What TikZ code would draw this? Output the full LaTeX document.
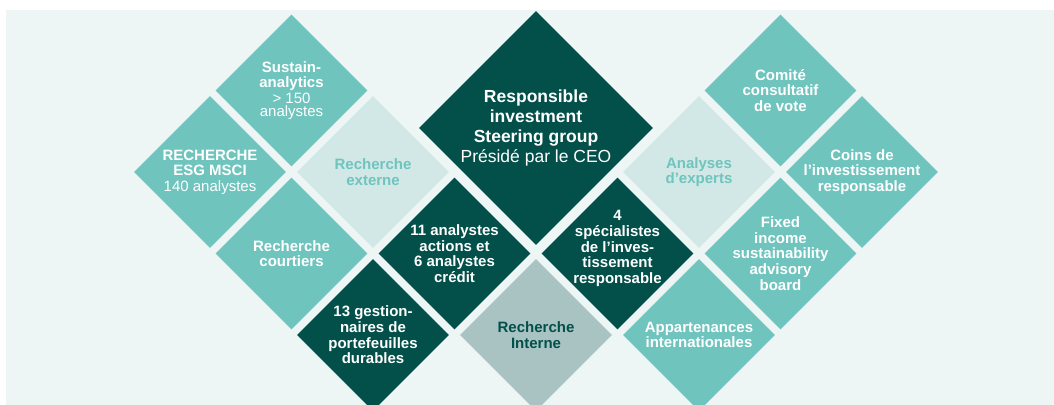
\documentclass[tikz,border=0pt]{standalone}
\usepackage{fontspec}
\setmainfont{Liberation Sans}
\usetikzlibrary{shapes.geometric}

\definecolor{mintbg}{HTML}{EDF6F4}
\definecolor{teal}{HTML}{6FC4BE}
\definecolor{darkgreen}{HTML}{03504A}
\definecolor{palemint}{HTML}{D1E8E7}
\definecolor{greymint}{HTML}{A8C3C2}

\tikzset{
  tile/.style={diamond, aspect=1, minimum size=121.6pt, inner sep=-20pt,
    align=center, fill=teal, text=white,
    font=\bfseries\fontsize{12}{12.5}\selectfont},
  darktile/.style={tile, fill=darkgreen},
  paletile/.style={tile, fill=palemint, text=teal},
  greytile/.style={tile, fill=greymint, text=darkgreen},
  bigtile/.style={tile, fill=darkgreen, minimum size=187.2pt,
    font=\bfseries\fontsize{14}{16}\selectfont}
}

\begin{document}
\begin{tikzpicture}[x=65.2pt, y=65.2pt]
% Page and mint background
\useasboundingbox (-6.577, -0.859) rectangle (6.356, 4.110);
\fill[mintbg] (-6.503, -0.859) rectangle (6.356, 3.988);

% Centre: steering group
\node[bigtile] (steering) at (0, 2.54) {Responsible\\investment\\Steering group\\{\mdseries Présidé par le CEO}};

% Left wing: external research
\node[tile] (sustain) at (-3, 3) {Sustain-\\analytics\\{\mdseries > 150}\\[-2pt]{\mdseries analystes}};
\node[tile] (msci) at (-4, 2) {RECHERCHE\\ESG MSCI\\{\mdseries 140 analystes}};
\node[paletile] (externe) at (-2, 2) {Recherche\\externe};
\node[tile] (courtiers) at (-3, 1) {Recherche\\courtiers};

% Bottom: internal research
\node[darktile] (actions) at (-1, 1) {11 analystes\\actions et\\6 analystes\\crédit};
\node[darktile] (gestion) at (-2, 0) {13 gestion-\\naires de\\portefeuilles\\durables};
\node[greytile] (interne) at (0, 0) {Recherche\\Interne};
\node[darktile] (specialistes) at (1, 1) {4\\spécialistes\\de l’inves-\\tissement\\responsable\\[-2pt]\mbox{}};

% Right wing: expert analyses
\node[paletile] (experts) at (2, 2) {Analyses\\d’experts};
\node[tile] (comite) at (3, 3) {Comité\\consultatif\\de vote};
\node[tile] (coins) at (4, 2) {Coins de\\l’investissement\\responsable};
\node[tile] (fixed) at (3, 1) {Fixed\\income\\sustainability\\advisory\\board};
\node[tile] (appart) at (2, 0) {Appartenances\\internationales};
\end{tikzpicture}
\end{document}
